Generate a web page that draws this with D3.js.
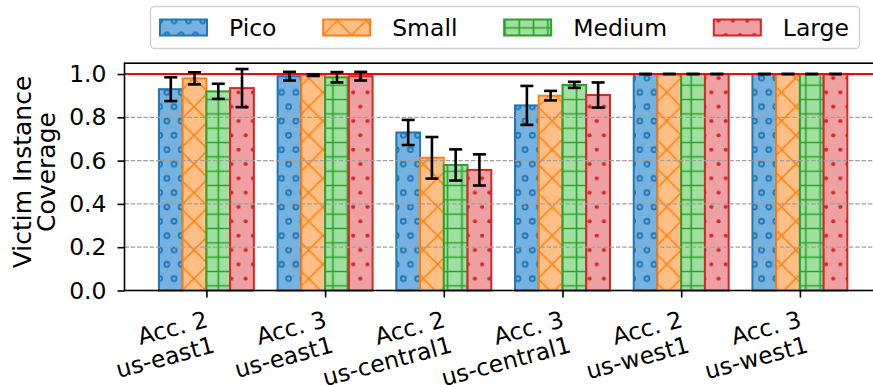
<!DOCTYPE html>
<html lang="en">
<head>
<meta charset="utf-8" />
<title>Victim Instance Coverage</title>
<script src="https://unpkg.com/d3@7.9.0/dist/d3.min.js"></script>
<style>
  html,body{margin:0;padding:0;background:#fff;}
  svg{display:block;font-family:"DejaVu Sans",sans-serif;}
</style>
</head>
<body>
<svg id="chart" width="873" height="385"></svg>
<script>
// ----- data -----
const categories = [
  ['Acc. 2', 'us-east1'], ['Acc. 3', 'us-east1'],
  ['Acc. 2', 'us-central1'], ['Acc. 3', 'us-central1'],
  ['Acc. 2', 'us-west1'], ['Acc. 3', 'us-west1']
];
const seriesNames = ['Pico', 'Small', 'Medium', 'Large'];
const pico     = [0.930, 0.990, 0.730, 0.855, 1.0, 1.0];
const small    = [0.980, 0.995, 0.613, 0.900, 1.0, 1.0];
const medium   = [0.920, 0.985, 0.580, 0.950, 1.0, 1.0];
const large    = [0.935, 0.990, 0.557, 0.903, 1.0, 1.0];
const picoErr   = [0.055, 0.020, 0.058, 0.090, 0, 0];
const smallErr  = [0.028, 0.004, 0.096, 0.022, 0, 0];
const mediumErr = [0.035, 0.024, 0.072, 0.014, 0, 0];
const largeErr  = [0.088, 0.020, 0.072, 0.058, 0, 0];
const yTicks = [0, 0.2, 0.4, 0.6, 0.8, 1.0];

const values = [pico, small, medium, large];
const errors = [picoErr, smallErr, mediumErr, largeErr];

// ----- look -----
const edge  = ['#1f77b4', '#ff7f0e', '#2ca02c', '#d62728'];
const fills = ['#76b2e0', '#ffbf86', '#a0e0a0', '#eea0a2'];
const hatch = ['circles', 'cross', 'plus', 'dots'];
const fs = 23.5;
const barW = 0.2;

const svg = d3.select('#chart');
const axL = 124.5, axR = 881.8, axT = 63.2, axB = 290.5;
const x = d3.scaleLinear().domain([-0.69, 5.69]).range([axL, axR]);
const y = d3.scaleLinear().domain([0, 1.05]).range([axB, axT]);

// ----- hatch patterns (anchored in page space like matplotlib) -----
const P = 14.33, D = 2 * P;
const defs = svg.append('defs');
function ringPattern(id, col, filled){
  const p = defs.append('pattern').attr('id', id).attr('patternUnits', 'userSpaceOnUse')
    .attr('x', 159.7 - P/2).attr('y', 164 - P/2).attr('width', P).attr('height', 2*P);
  [[P/2, P/2], [0, 1.5*P], [P, 1.5*P]].forEach(([cx, cy]) => {
    const c = p.append('circle').attr('cx', cx).attr('cy', cy);
    if(filled) c.attr('r', 2.1).attr('fill', col);
    else c.attr('r', 2.5).attr('fill', 'none').attr('stroke', col).attr('stroke-width', 1.8);
  });
}
ringPattern('hatch-circles', edge[0], false);
ringPattern('hatch-dots', edge[3], true);
defs.append('pattern').attr('id', 'hatch-cross').attr('patternUnits', 'userSpaceOnUse')
  .attr('x', 194).attr('y', 164).attr('width', D).attr('height', D)
  .append('path')
  .attr('d', `M${-D},${-D}L${2*D},${2*D}M${-D},0L${D},${2*D}M0,${-D}L${2*D},${D}` +
             `M${-D},${D}L${D},${-D}M${-D},${2*D}L${2*D},${-D}M0,${2*D}L${2*D},0`)
  .attr('stroke', edge[1]).attr('stroke-width', 1.5).attr('fill', 'none');
defs.append('pattern').attr('id', 'hatch-plus').attr('patternUnits', 'userSpaceOnUse')
  .attr('x', 161 - P/2).attr('y', 171.2 - P/2).attr('width', P).attr('height', P)
  .append('path').attr('d', `M0,${P/2}H${P}M${P/2},0V${P}`)
  .attr('stroke', edge[2]).attr('stroke-width', 1.6).attr('fill', 'none');

function hatchedRect(g, s, x0, y0, w, h){
  g.append('rect').attr('x', x0).attr('y', y0).attr('width', w).attr('height', h).attr('fill', fills[s]);
  g.append('rect').attr('x', x0).attr('y', y0).attr('width', w).attr('height', h).attr('fill', `url(#hatch-${hatch[s]})`);
  g.append('rect').attr('x', x0).attr('y', y0).attr('width', w).attr('height', h)
    .attr('fill', 'none').attr('stroke', edge[s]).attr('stroke-width', 2);
}

// ----- bars -----
const bars = svg.append('g');
values.forEach((vals, s) => {
  vals.forEach((v, i) => {
    const c = i + (s - 1.5) * barW;
    const x0 = x(c - barW/2), x1 = x(c + barW/2);
    hatchedRect(bars, s, x0, y(v), x1 - x0, y(0) - y(v));
  });
});

// ----- grid (on top of bars) -----
svg.append('g').selectAll('line').data(yTicks.filter(t => t > 0 && t < 1)).join('line')
  .attr('x1', axL).attr('x2', axR).attr('y1', d => y(d)).attr('y2', d => y(d))
  .attr('stroke', '#a0a0a0').attr('stroke-width', 1.2).attr('stroke-dasharray', '4.4,1.9');

// ----- reference line at 1.0 -----
svg.append('line').attr('x1', axL).attr('x2', axR).attr('y1', y(1)).attr('y2', y(1))
  .attr('stroke', '#ff0000').attr('stroke-width', 2);

// ----- error bars -----
const eb = svg.append('g').attr('stroke', '#000').attr('stroke-width', 2.6);
values.forEach((vals, s) => {
  vals.forEach((v, i) => {
    const c = x(i + (s - 1.5) * barW), e = errors[s][i];
    const y1 = y(v - e), y2 = y(v + e);
    eb.append('line').attr('x1', c).attr('x2', c).attr('y1', y1).attr('y2', y2);
    eb.append('line').attr('x1', c - 6.5).attr('x2', c + 6.5).attr('y1', y1).attr('y2', y1);
    eb.append('line').attr('x1', c - 6.5).attr('x2', c + 6.5).attr('y1', y2).attr('y2', y2);
  });
});

// ----- axes -----
const yAxis = svg.append('g').attr('transform', `translate(${axL},0)`)
  .call(d3.axisLeft(y).tickValues(yTicks).tickFormat(d3.format('.1f')).tickSizeOuter(0).tickSize(7).tickPadding(11));
yAxis.select('.domain').remove();
yAxis.selectAll('line').attr('stroke', '#000').attr('stroke-width', 1.6);
yAxis.selectAll('text').attr('font-size', fs).attr('fill', '#000').attr('font-family', '"DejaVu Sans"');

const xAxis = svg.append('g').attr('transform', `translate(0,${axB})`)
  .call(d3.axisBottom(x).tickValues(d3.range(categories.length)).tickFormat('').tickSize(7).tickSizeOuter(0));
xAxis.select('.domain').remove();
xAxis.selectAll('line').attr('stroke', '#000').attr('stroke-width', 1.6);

// spines
svg.append('rect').attr('x', axL).attr('y', axT).attr('width', axR - axL).attr('height', axB - axT)
  .attr('fill', 'none').attr('stroke', '#000').attr('stroke-width', 1.6);

// category labels: rotated 15deg, right aligned, anchored at tick
categories.forEach((lines, i) => {
  const t = svg.append('text')
    .attr('transform', `translate(${x(i) - 3},${axB + 14.5}) rotate(-15)`)
    .attr('text-anchor', 'end').attr('font-size', fs).attr('fill', '#000');
  lines.forEach((ln, k) => t.append('tspan').attr('x', 0).attr('dy', k === 0 ? '0.95em' : '1.12em').text(ln));
});

// y label
const yl = svg.append('text').attr('transform', `translate(22,172) rotate(-90)`)
  .attr('text-anchor', 'middle').attr('font-size', 25).attr('fill', '#000');
yl.append('tspan').attr('x', 0).attr('dy', '0.35em').text('Victim Instance');
yl.append('tspan').attr('x', 0).attr('dy', '0.95em').text('Coverage');

// ----- legend -----
const lg = svg.append('g');
lg.append('rect').attr('x', 150.5).attr('y', 6.5).attr('width', 709).attr('height', 42)
  .attr('rx', 4).attr('fill', '#fff').attr('fill-opacity', 0.8).attr('stroke', '#d0d0d0').attr('stroke-width', 1.3);
let lx = 160;
seriesNames.forEach((name, s) => {
  hatchedRect(lg, s, lx, 19.5, 47, 16);
  const t = lg.append('text').attr('x', lx + 47 + 22).attr('y', 27.5).attr('dy', '0.35em')
    .attr('font-size', fs).attr('fill', '#000').text(name);
  lx += 47 + 22 + t.node().getComputedTextLength() + 46.7;
});
</script>
</body>
</html>
